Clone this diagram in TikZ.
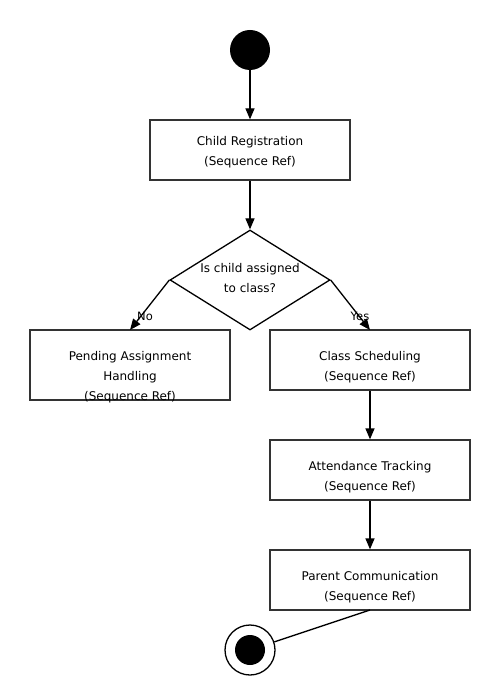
\documentclass[tikz,border=0pt]{standalone}
\usepackage{fontspec}
\setmainfont{DejaVu Sans}
\usetikzlibrary{shapes.geometric,arrows.meta}
\definecolor{edge}{HTML}{333333}
\begin{document}
\begin{tikzpicture}[x=1pt,y=-1pt,
  txt/.style={font=\fontsize{12}{20}\selectfont,align=center,inner sep=0pt},
  box/.style={draw=edge,line width=1.3pt,minimum width=200pt,inner sep=0pt},
  flow/.style={line width=1.3pt,-{Triangle[length=11pt,width=9pt]}},
  lbl/.style={font=\fontsize{11.5}{12}\selectfont,inner sep=0pt}]
\useasboundingbox (0,0) rectangle (500,700);
\node[circle,fill=black,minimum size=40pt,inner sep=0pt] (start) at (250,50) {};
\node[box,minimum height=60pt] (reg) at (250,150) {};
\node[txt] (regt) at (250,152) {Child Registration\\(Sequence Ref)};
\node[diamond,draw=black,line width=1.3pt,minimum width=160pt,minimum height=100pt,shape aspect=1.6,inner sep=0pt] (dec) at (250,280) {};
\node[txt] (dect) at (250,278) {Is child assigned\\to class?};
\node[box,minimum height=70pt] (pend) at (130,365) {};
\node[txt] (pendt) at (130,377) {Pending Assignment\\Handling\\(Sequence Ref)};
\node[box,minimum height=60pt] (sched) at (370,360) {};
\node[txt] (schedt) at (370,367) {Class Scheduling\\(Sequence Ref)};
\node[box,minimum height=60pt] (att) at (370,470) {};
\node[txt] (attt) at (370,477) {Attendance Tracking\\(Sequence Ref)};
\node[box,minimum height=60pt] (par) at (370,580) {};
\node[txt] (part) at (370,587) {Parent Communication\\(Sequence Ref)};
\node[circle,draw=black,line width=1.3pt,minimum size=50pt,inner sep=0pt] (end) at (250,650) {};
\node[circle,fill=black,minimum size=30pt,inner sep=0pt] (endin) at (250,650) {};
\coordinate (pendtop) at (130,330);
\coordinate (schedtop) at (370,330);
\coordinate (parbot) at (370,610);
\draw[flow] (start) -- (reg);
\draw[flow] (reg) -- (dec.north);
\draw[flow] (dec.west) -- (pendtop);
\draw[flow] (dec.east) -- (schedtop);
\draw[flow] (sched) -- (att);
\draw[flow] (att) -- (par);
\draw[line width=1.3pt] (parbot) -- (end);
\node[lbl] (no) at (145,316) {No};
\node[lbl] (yes) at (360,316) {Yes};
\end{tikzpicture}
\end{document}
